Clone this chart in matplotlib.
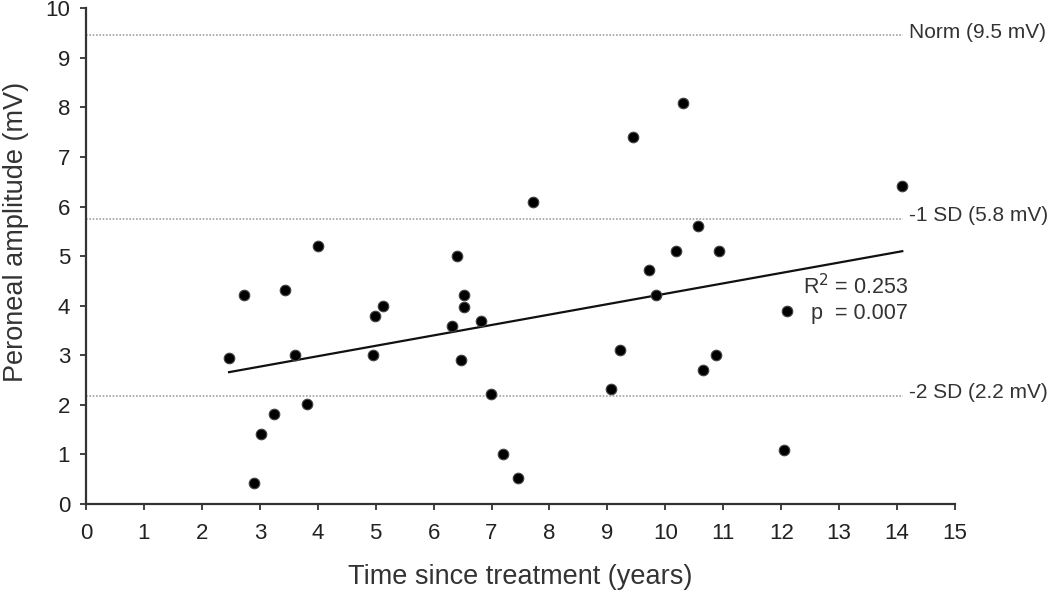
import numpy as np
import matplotlib.pyplot as plt

# ==========================================================
# Data
# ==========================================================

years = [2.47, 2.73, 3.44, 4.00, 3.61, 3.25, 3.02, 2.90, 3.81,
         4.98, 5.12, 4.95, 6.41, 6.53, 6.53, 6.31, 6.82, 6.48,
         6.99, 7.19, 7.46, 7.72,
         10.30, 9.45, 14.09, 10.57, 10.19, 10.92, 9.71, 9.84,
         12.10, 9.21, 10.88, 10.65, 9.07, 12.05]

amplitude = [2.95, 4.21, 4.31, 5.21, 3.01, 1.81, 1.41, 0.42, 2.02,
             3.80, 4.00, 3.01, 5.01, 4.21, 3.97, 3.59, 3.70, 2.90,
             2.21, 1.00, 0.52, 6.09,
             8.09, 7.40, 6.41, 5.61, 5.11, 5.11, 4.72, 4.21,
             3.90, 3.10, 3.01, 2.71, 2.31, 1.09]

fit_x = [2.47, 14.09]
fit_y = [2.66, 5.10]

ref_values = [9.46, 5.75, 2.18]
ref_labels = ["Norm (9.5 mV)", "-1 SD (5.8 mV)", "-2 SD (2.2 mV)"]

plt.rcParams['font.family'] = ['Liberation Sans', 'DejaVu Sans']

# ==========================================================
# Figure
# ==========================================================

fig = plt.figure(figsize=(10.5, 5.92), dpi=100)
ax = fig.add_axes([86 / 1050, 1 - 504 / 592, (955 - 86) / 1050, (504 - 8.3) / 592])

for v, lab in zip(ref_values, ref_labels):
    ax.plot([0, 14.1], [v, v], linestyle=(0, (1, 1)), color="#a0a0a0",
            linewidth=1.2, clip_on=False)
    ax.text(14.2, v + 0.06, lab, ha="left", va="center", fontsize=15,
            color="#333333", clip_on=False)

ax.plot(fit_x, fit_y, color="#111111", linewidth=1.6)

ax.scatter(years, amplitude, s=58, color="black", edgecolors="#444444",
           linewidths=0.8, zorder=3)

ax.text(14.19, 4.38, "R$^2$ = 0.253", ha="right", va="center",
        fontsize=15.5, color="#333333")
ax.text(14.19, 3.85, "p  = 0.007", ha="right", va="center",
        fontsize=15.5, color="#333333")

ax.set_xlim(0, 15)
ax.set_ylim(0, 10)
ax.set_xticks(np.arange(0, 16, 1))
ax.set_yticks(np.arange(0, 11, 1))

for s in ["top", "right"]:
    ax.spines[s].set_visible(False)
for s in ["left", "bottom"]:
    ax.spines[s].set_color("#333333")
    ax.spines[s].set_linewidth(1.6)

ax.tick_params(axis="both", direction="out", length=4.5, width=1.3,
               color="#333333", labelsize=16, labelcolor="#222222")
ax.tick_params(axis="x", pad=9)
ax.tick_params(axis="y", pad=7)

ax.set_xlabel("Time since treatment (years)", fontsize=19.5, color="#333333")
ax.set_ylabel("Peroneal amplitude (mV)", fontsize=19.5, color="#333333")
ax.xaxis.set_label_coords(0.5, -0.121)
ax.yaxis.set_label_coords(-0.066, 0.548)

fig.savefig("out.png", dpi=100)
